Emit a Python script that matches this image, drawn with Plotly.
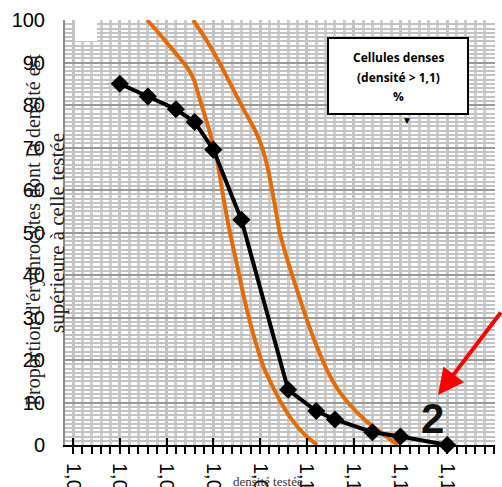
import plotly.graph_objects as go

# ---- data ----
density_tested = [1.080, 1.083, 1.086, 1.088, 1.090, 1.093, 1.098, 1.101, 1.103, 1.107, 1.110, 1.115]
pct_denser = [85, 82, 79, 76, 69.5, 53, 13, 8, 6, 3, 2, 0]

ref_low_x = [1.08291, 1.08398, 1.08505, 1.08612, 1.08718, 1.08793, 1.08857, 1.08911, 1.08964, 1.09039, 1.09103,
             1.09178, 1.09253, 1.09317, 1.09392, 1.09467, 1.09541, 1.09627, 1.09734, 1.09841, 1.09969, 1.10108]
ref_low_y = [100, 97.4, 94.6, 91.8, 88.9, 85.9, 81.2, 77.4, 73.4, 67.1, 58.8,
             49.9, 42.4, 35.8, 28.9, 23.1, 18.1, 14.1, 9.6, 5.9, 2.6, 0]
ref_high_x = [1.08783, 1.08911, 1.09050, 1.09189, 1.09328, 1.09445, 1.09520, 1.09584, 1.09648, 1.09712,
              1.09798, 1.09894, 1.10001, 1.10108, 1.10215, 1.10322, 1.10461, 1.10621, 1.10781, 1.10974]
ref_high_y = [100, 95.8, 90.6, 84.7, 78.8, 74.1, 70.1, 64.9, 57.6, 49.9,
              43.1, 36.5, 29.4, 23.1, 17.6, 13.4, 9.4, 5.9, 3.1, 0]

x_tick_vals = [1.075, 1.080, 1.085, 1.090, 1.095, 1.100, 1.105, 1.110, 1.115, 1.120]
x_tick_labels = ["1,075", "1,080", "1,085", "1,090", "1,095", "1,100", "1,105", "1,110", "1,115", "1,120"]
y_tick_vals = [0, 10, 20, 30, 40, 50, 60, 70, 80, 90, 100]
y_tick_labels = ["0", "10", "20", "30", "40", "50", "60", "70", "80", "90", "100"]

W, H = 502, 487
L, R, T, B = 65, 7, 20, 42
PW, PH = W - L - R, H - T - B


def px(xp):
    return (xp - L) / PW


def py(yp):
    return (H - B - yp) / PH


ORANGE = "#E36C0A"

fig = go.Figure()
for xs, ys in [(ref_low_x, ref_low_y), (ref_high_x, ref_high_y)]:
    fig.add_trace(go.Scatter(x=xs, y=ys, mode="lines",
                             line=dict(color=ORANGE, width=4, shape="spline", smoothing=0.7),
                             hoverinfo="skip", showlegend=False, cliponaxis=True))
fig.add_trace(go.Scatter(x=density_tested, y=pct_denser, mode="lines+markers",
                         line=dict(color="black", width=4),
                         marker=dict(symbol="diamond", size=14, color="black"),
                         showlegend=False, cliponaxis=False))
fig.add_trace(go.Scatter(x=[], y=[], xaxis="x2", showlegend=False, hoverinfo="skip"))

x_range = [1.075 - 8 / 46.78 * 0.005, 1.120 + 1 / 46.78 * 0.005]

fig.update_layout(
    width=W, height=H,
    margin=dict(l=L, r=R, t=T, b=B, pad=0),
    paper_bgcolor="white", plot_bgcolor="white",
    xaxis=dict(range=x_range, tickvals=x_tick_vals, ticktext=x_tick_labels, automargin=False,
               tickangle=90, tickfont=dict(family="Liberation Sans, Arial", size=20, color="black"),
               ticklabelstandoff=5,
               ticks="outside", ticklen=7, tickwidth=2, tickcolor="black",
               showline=True, linecolor="black", linewidth=2,
               showgrid=True, gridcolor="#c4c4c4", gridwidth=2.5,
               minor=dict(dtick=0.001, tick0=1.075, showgrid=True, gridcolor="#cfcfcf", gridwidth=2.5,
                          ticks="outside", ticklen=7, tickwidth=1.5, tickcolor="black"),
               zeroline=False, fixedrange=True),
    xaxis2=dict(range=x_range, overlaying="x", anchor="y", side="bottom", automargin=False,
                tickvals=x_tick_vals, showticklabels=False,
                ticks="inside", ticklen=7, tickwidth=2, tickcolor="black",
                showgrid=False, showline=False, zeroline=False),
    yaxis=dict(range=[0, 100], tickvals=y_tick_vals, ticktext=y_tick_labels, automargin=False,
               tickfont=dict(family="Liberation Sans, Arial", size=20, color="black"),
               ticks="outside", ticklen=14, tickcolor="rgba(0,0,0,0)",
               showline=True, linecolor="#8c8c8c", linewidth=2,
               showgrid=True, gridcolor="#999999", gridwidth=2,
               minor=dict(dtick=1, showgrid=True, gridcolor="#c2c2c2", gridwidth=2),
               zeroline=False, fixedrange=True),
)

shapes = [
    # white gap at top-left of the grid
    dict(type="rect", xref="paper", yref="paper", x0=px(75), x1=px(97), y0=py(41), y1=py(19),
         fillcolor="white", line=dict(width=0), layer="above"),
    # callout box
    dict(type="rect", xref="paper", yref="paper", x0=px(328), x1=px(468), y0=py(114), y1=py(38),
         fillcolor="white", line=dict(color="black", width=2), layer="above"),
]
fig.update_layout(shapes=shapes)

ann = []
box_font = dict(family="Open Sans, Liberation Sans", size=12, color="black")
for txt, yy in [("<b>Cellules denses</b>", 58), ("<b>(densité &gt; 1,1)</b>", 77), ("<b>%</b>", 96)]:
    ann.append(dict(xref="paper", yref="paper", x=px(398), y=py(yy), text=txt, showarrow=False,
                    font=box_font, xanchor="center", yanchor="middle"))
ann.append(dict(xref="paper", yref="paper", x=px(407), y=py(120), text="▼", showarrow=False,
                font=dict(size=10, color="black"), xanchor="center", yanchor="middle"))
# y-axis title (two lines)
serif1 = dict(family="Liberation Serif, Times New Roman", size=20, color="#222")
serif2 = dict(family="Liberation Serif, Times New Roman", size=21, color="#222")
ann.append(dict(xref="paper", yref="paper", x=px(33), y=py(230),
                text="Proportion d'érythrocytes dont la densité est",
                textangle=-90, showarrow=False, font=serif1, xanchor="center", yanchor="middle"))
ann.append(dict(xref="paper", yref="paper", x=px(57), y=py(233),
                text="supérieure à celle testée",
                textangle=-90, showarrow=False, font=serif2, xanchor="center", yanchor="middle"))
# x-axis title
ann.append(dict(xref="paper", yref="paper", x=px(268), y=py(481), text="densité testée",
                showarrow=False, font=dict(family="Liberation Serif, Times New Roman", size=13, color="#333"),
                xanchor="center", yanchor="middle"))
# big "2"
ann.append(dict(xref="paper", yref="paper", x=px(432), y=py(418), text="<b>2</b>", showarrow=False,
                font=dict(family="Liberation Sans, Arial", size=42, color="#111"),
                xanchor="center", yanchor="middle"))
# red arrow
ann.append(dict(xref="paper", yref="paper", x=px(438), y=py(395), text="", showarrow=True,
                axref="pixel", ayref="pixel", ax=70, ay=-84,
                arrowcolor="#FF0000", arrowwidth=4, arrowhead=2, arrowsize=1.3))
fig.update_layout(annotations=ann)

fig.write_html("out.html")
